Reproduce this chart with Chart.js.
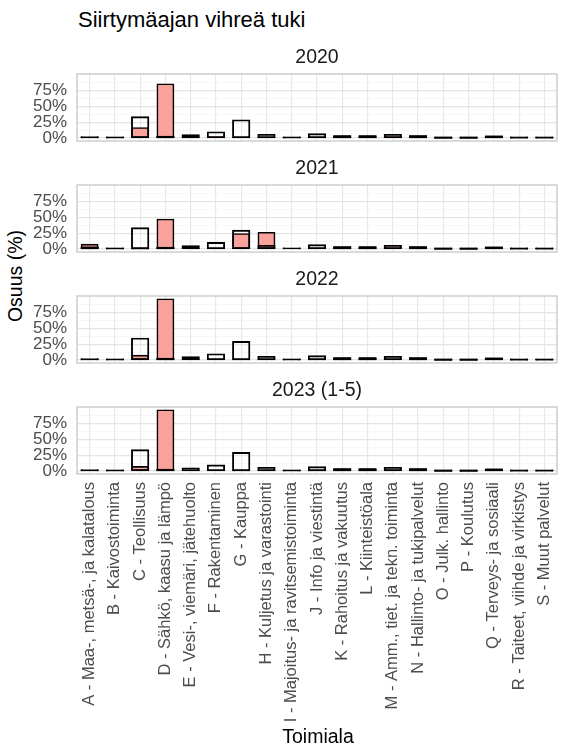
<!DOCTYPE html>
<html><head><meta charset="utf-8">
<script src="https://cdn.jsdelivr.net/npm/chart.js@4.4.1/dist/chart.umd.min.js"></script>
<style>
body{margin:0;width:561px;height:749px;background:#fff;position:relative;overflow:hidden;font-family:'Liberation Sans',Arial,sans-serif;}
canvas{position:absolute;left:0;}
.t{position:absolute;white-space:nowrap;color:#000;line-height:1;}
</style></head><body>
<div class="t" style="left:78px;top:9px;font-size:22px;color:#000;">Siirtymäajan vihreä tuki</div>
<div class="t" style="left:16px;top:276px;font-size:19.5px;transform:translate(-50%,-50%) rotate(-90deg);">Osuus (%)</div>
<div class="t" style="left:318px;top:737px;font-size:19.5px;transform:translate(-50%,-50%);z-index:2;">Toimiala</div>
<script>
const categories = [
  'A - Maa-, metsä-, ja kalatalous',
  'B - Kaivostoiminta',
  'C - Teollisuus',
  'D - Sähkö, kaasu ja lämpö',
  'E - Vesi-, viemäri, jätehuolto',
  'F - Rakentaminen',
  'G - Kauppa',
  'H - Kuljetus ja varastointi',
  'I - Majoitus- ja ravitsemistoiminta',
  'J - Info ja viestintä',
  'K - Rahoitus ja vakuutus',
  'L - Kiinteistöala',
  'M - Amm., tiet. ja tekn. toiminta',
  'N - Hallinto- ja tukipalvelut',
  'O - Julk. hallinto',
  'P - Koulutus',
  'Q - Terveys- ja sosiaali',
  'R - Taiteet, viihde ja virkistys',
  'S - Muut palvelut'
];
const panelTitles = ['2020', '2021', '2022', '2023 (1-5)'];

// hollow bars (%), per year
const kaikki2020 = [1.2, 1.0, 33, 2, 4.5, 9, 28, 5, 1.0, 6, 3, 3, 5, 3, 0.2, 0.2, 2.5, 0.6, 0.6];
const kaikki2021 = [2.5, 1.0, 33, 2, 4.5, 9.5, 29, 5, 1.0, 6, 3, 3, 5, 3, 0.2, 0.2, 2.5, 0.6, 0.6];
const kaikki2022 = [1.2, 1.0, 34, 2, 4.5, 9, 28.5, 5, 1.0, 6, 3, 3, 5, 3, 0.2, 0.2, 2.5, 0.6, 0.6];
const kaikki2023 = [1.2, 1.0, 33, 2, 4, 8.8, 28.7, 5, 1.0, 6, 3, 3, 5, 3, 0.2, 0.2, 2.5, 0.6, 0.6];
// filled (green support) bars (%), per year
const vihrea2020 = [0.5, 0.3, 16, 85.5, 1, 2, 0.5, 1, 0.3, 1, 1.5, 2, 2, 2.5, 0.1, 0.1, 1.5, 0.3, 0.3];
const vihrea2021 = [7, 0.3, 0.2, 47, 1, 1, 24, 26, 0.5, 1, 2, 2, 2, 2.5, 0.1, 0.1, 1.5, 0.3, 0.3];
const vihrea2022 = [0.5, 0.3, 7, 96.5, 1, 1, 0.5, 1, 0.3, 0.5, 1.5, 2, 1.5, 2, 0.1, 0.1, 1, 0.3, 0.3];
const vihrea2023 = [0.5, 0.3, 6.7, 96.5, 1, 1, 0.5, 1, 0.3, 0.5, 1.5, 2, 1.5, 2, 0.1, 0.1, 1, 0.3, 0.3];

const yTickValues = [0, 25, 50, 75];
const yMinorValues = [12.5, 37.5, 62.5, 87.5];

const kaikki = [kaikki2020, kaikki2021, kaikki2022, kaikki2023];
const vihrea = [vihrea2020, vihrea2021, vihrea2022, vihrea2023];

Chart.defaults.font.family = "'Liberation Sans', Arial, sans-serif";
Chart.defaults.animation = false;

const panelTops = [74, 185, 296, 407];
const plotH = 67;
const topPad = 34;

function zeroPad(a) { a.paddingTop = 0; a.paddingBottom = 0; a.paddingLeft = 0; a.paddingRight = 0; }
// outlined bars: very short bars render as a solid outline stroke (like a centred stroke would)
const hollowFill = c => (c.raw !== undefined && c.raw < 3.5 ? '#000' : 'rgba(0,0,0,0)');

panelTitles.forEach((title, i) => {
  const last = i === panelTitles.length - 1;
  const cv = document.createElement('canvas');
  const h = last ? (749 - (panelTops[i] - topPad)) : (topPad + plotH + 2);
  cv.width = 561; cv.height = h;
  cv.style.width = '561px'; cv.style.height = h + 'px';
  cv.style.top = (panelTops[i] - topPad) + 'px';
  document.body.appendChild(cv);

  const stripPlugin = {
    id: 'strip' + i,
    afterDatasetsDraw(chart) {
      const a = chart.chartArea, ctx = chart.ctx;
      ctx.save();
      ctx.strokeStyle = '#c6c6c6';
      ctx.lineWidth = 1.3;
      ctx.strokeRect(a.left, a.top, a.right - a.left, a.bottom - a.top);
      ctx.restore();
    },
    afterDraw(chart) {
      const a = chart.chartArea, ctx = chart.ctx;
      ctx.save();
      ctx.fillStyle = '#1a1a1a';
      ctx.font = "19.5px 'Liberation Sans', Arial, sans-serif";
      ctx.textAlign = 'center';
      ctx.textBaseline = 'middle';
      ctx.fillText(title, (a.left + a.right) / 2, a.top - 16);
      ctx.restore();
    }
  };

  new Chart(cv, {
    type: 'bar',
    data: {
      labels: categories,
      datasets: [
        { label: 'Kaikki', data: kaikki[i], backgroundColor: hollowFill, borderColor: '#000',
          borderWidth: 0.1, inflateAmount: 0.9, borderSkipped: false,
          barPercentage: 0.65, categoryPercentage: 1, grouped: false, order: 0 },
        { label: 'Vihreä', data: vihrea[i], backgroundColor: '#F9A19B', borderColor: '#000',
          borderWidth: 1.6, inflateAmount: 0.7, borderSkipped: false,
          barPercentage: 0.65, categoryPercentage: 1, grouped: false, order: 1 }
      ]
    },
    options: {
      responsive: false,
      animation: false,
      layout: { padding: { top: topPad, right: 4, bottom: last ? 0 : 2, left: 0 } },
      plugins: { legend: { display: false }, tooltip: { enabled: false }, title: { display: false } },
      scales: {
        x: {
          offset: true,
          grid: { offset: false, color: '#e8e8e8', lineWidth: 1.2, drawTicks: false },
          border: { display: false },
          ticks: { display: last, autoSkip: false, maxRotation: 90, minRotation: 90, padding: 8,
                   color: '#4d4d4d', font: { size: 16.5 } },
          afterFit: a => { a.height = last ? (h - topPad - plotH) : 0; zeroPad(a); }
        },
        y: {
          min: -4.8, max: 101.5,
          afterFit: a => { a.width = 77; zeroPad(a); },
          afterBuildTicks: a => {
            a.ticks = [...yTickValues, ...yMinorValues].sort((p, q) => p - q).map(v => ({ value: v }));
          },
          ticks: { autoSkip: false, padding: 10, color: '#4d4d4d', font: { size: 17 },
                   callback: v => yTickValues.includes(v) ? v + '%' : '' },
          grid: {
            drawTicks: false,
            color: c => yTickValues.includes(c.tick.value) ? '#e4e4e4' : '#f1f1f1',
            lineWidth: c => yTickValues.includes(c.tick.value) ? 1.2 : 0.6
          },
          border: { display: false }
        }
      }
    },
    plugins: [stripPlugin]
  });
});
</script>
</body></html>
